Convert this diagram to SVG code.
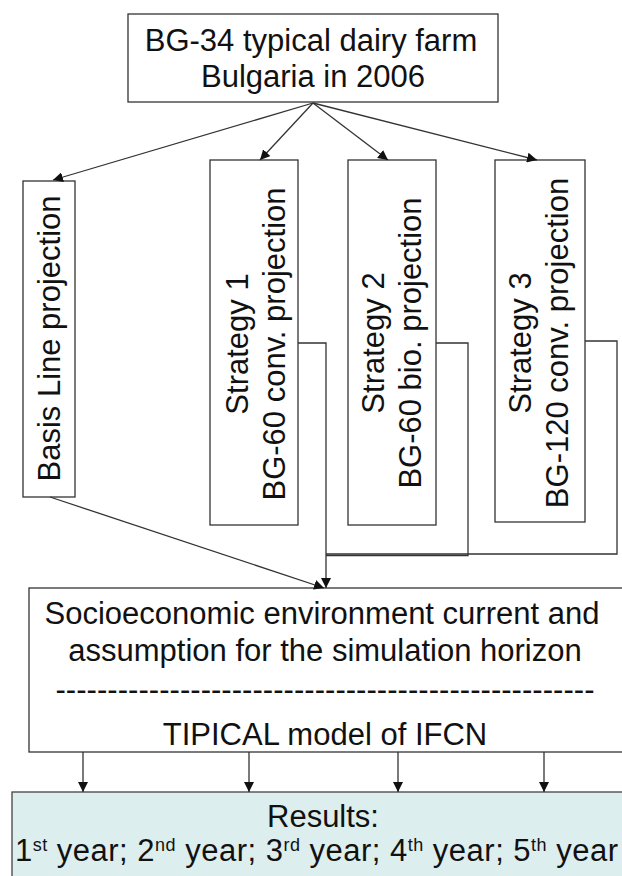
<svg xmlns="http://www.w3.org/2000/svg" width="622" height="876" viewBox="0 0 622 876">
  <defs>
    <marker id="arrow" viewBox="0 0 10 10" refX="10" refY="5" markerWidth="10" markerHeight="10" markerUnits="userSpaceOnUse" orient="auto">
      <path d="M0,0 L10,5 L0,10 z" fill="#111"/>
    </marker>
    <style>
      .box { fill: #ffffff; stroke: #333333; stroke-width: 1.3; }
      .res { fill: #ddeeee; stroke: #444444; stroke-width: 1.3; }
      .lbl { font-family: "Liberation Sans", Arial, sans-serif; font-size: 31px; fill: #111111; text-anchor: middle; }
      .lbs { font-family: "Liberation Sans", Arial, sans-serif; font-size: 31px; fill: #111111; }
      .sup { font-size: 18px; }
      .con { fill: none; stroke: #333333; stroke-width: 1.3; }
      .arr { fill: none; stroke: #333333; stroke-width: 1.3; marker-end: url(#arrow); }
    </style>
  </defs>
  <rect width="622" height="876" fill="#ffffff"/>

  <!-- source farm -->
  <g id="farm">
    <rect class="box" x="128" y="14" width="370" height="88"/>
    <text class="lbl" x="311" y="51">BG-34 typical dairy farm</text>
    <text class="lbl" x="313" y="87">Bulgaria in 2006</text>
  </g>

  <!-- projections (vertical labels) -->
  <g id="basis">
    <rect class="box" x="23" y="181" width="52" height="316"/>
    <text class="lbl" transform="translate(60,338.5) rotate(-90)">Basis Line projection</text>
  </g>
  <g id="strategy1">
    <rect class="box" x="210" y="160" width="88" height="365"/>
    <text class="lbl" transform="translate(248,344) rotate(-90)">Strategy 1</text>
    <text class="lbl" transform="translate(285,344) rotate(-90)">BG-60 conv. projection</text>
  </g>
  <g id="strategy2">
    <rect class="box" x="348" y="160" width="88" height="365"/>
    <text class="lbl" transform="translate(384,343) rotate(-90)">Strategy 2</text>
    <text class="lbl" transform="translate(421,343) rotate(-90)">BG-60 bio. projection</text>
  </g>
  <g id="strategy3">
    <rect class="box" x="495" y="160" width="90" height="362"/>
    <text class="lbl" transform="translate(531,343) rotate(-90)">Strategy 3</text>
    <text class="lbl" transform="translate(568,343) rotate(-90)">BG-120 conv. projection</text>
  </g>

  <!-- simulation environment -->
  <g id="environment">
    <rect class="box" x="29" y="588" width="600" height="164"/>
    <text class="lbl" x="322" y="624">Socioeconomic environment current and</text>
    <text class="lbl" x="325" y="661">assumption for the simulation horizon</text>
    <text class="lbl" x="325" y="700" textLength="539" lengthAdjust="spacing">----------------------------------------------------</text>
    <text class="lbl" x="325" y="745">TIPICAL model of IFCN</text>
  </g>

  <!-- results -->
  <g id="results">
    <rect class="res" x="12" y="792" width="620" height="100"/>
    <text class="lbl" x="323" y="827">Results:</text>
    <text class="lbs" x="15" y="861" textLength="603" lengthAdjust="spacing">1<tspan class="sup" dy="-10">st</tspan><tspan dy="10"> year; 2</tspan><tspan class="sup" dy="-10">nd</tspan><tspan dy="10"> year; 3</tspan><tspan class="sup" dy="-10">rd</tspan><tspan dy="10"> year; 4</tspan><tspan class="sup" dy="-10">th</tspan><tspan dy="10"> year; 5</tspan><tspan class="sup" dy="-10">th</tspan><tspan dy="10"> year</tspan></text>
  </g>

  <!-- connectors -->
  <g id="connectors">
    <line class="arr" x1="313" y1="103" x2="53" y2="180"/>
    <line class="arr" x1="313" y1="103" x2="260" y2="160"/>
    <line class="arr" x1="313" y1="103" x2="388" y2="160"/>
    <line class="arr" x1="313" y1="103" x2="537" y2="160"/>

    <line class="arr" x1="50" y1="497" x2="324" y2="588"/>
    <polyline class="arr" points="298,343 326,343 326,588"/>
    <polyline class="con" points="436,343 468,343 468,555.5 326,555.5"/>
    <polyline class="con" points="585,341 617,341 617,554 326,554"/>

    <line class="arr" x1="83" y1="752" x2="83" y2="792"/>
    <line class="arr" x1="249" y1="752" x2="249" y2="792"/>
    <line class="arr" x1="398" y1="752" x2="398" y2="792"/>
    <line class="arr" x1="544" y1="752" x2="544" y2="792"/>
  </g>
</svg>
